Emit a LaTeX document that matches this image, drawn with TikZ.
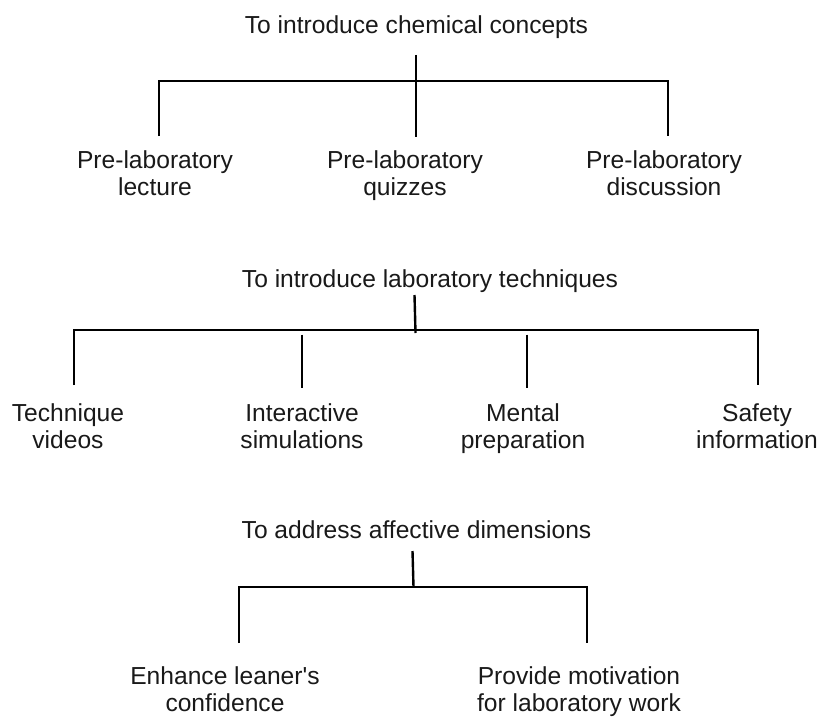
\documentclass[tikz,border=0pt]{standalone}
\usepackage{fontspec}
\setmainfont{Liberation Sans}[Ligatures=TeXOff]
\begin{document}
\begin{tikzpicture}[x=1pt,y=-1pt,
  lbl/.style={font=\fontsize{24.6}{27.5}\selectfont, align=center, anchor=base, inner sep=0pt, text=black!90},
  conn/.style={line width=2.4pt, line cap=butt, line join=miter, draw=black}]
\useasboundingbox (0,0) rectangle (821,717);
% ---------- section 1
\node[lbl] (t1) at (416.5,34) {To introduce chemical concepts};
\node[lbl] (c11) at (155,195.5) {Pre-laboratory\\lecture};
\node[lbl] (c12) at (405,195.5) {Pre-laboratory\\quizzes};
\node[lbl] (c13) at (664,195.5) {Pre-laboratory\\discussion};
\coordinate (s1top) at (416,55);
\coordinate (s1bot) at (416,137);
\coordinate (b1L) at (159,81);
\coordinate (b1R) at (668,81);
\coordinate (d11) at (159,136);
\coordinate (d13) at (668,136);
\draw[conn] (s1top) -- (s1bot);
\draw[conn] (d11) -- (b1L) -- (b1R) -- (d13);
% ---------- section 2
\node[lbl] (t2) at (430,287) {To introduce laboratory techniques};
\node[lbl] (c21) at (68,448.5) {Technique\\videos};
\node[lbl] (c22) at (302,448.5) {Interactive\\simulations};
\node[lbl] (c23) at (523,448.5) {Mental\\preparation};
\node[lbl] (c24) at (757,448.5) {Safety\\information};
\coordinate (s2top) at (414.5,295);
\coordinate (s2bot) at (415.5,333);
\coordinate (b2L) at (74,330);
\coordinate (b2R) at (758,330);
\coordinate (d21) at (74,385);
\coordinate (d24) at (758,385);
\coordinate (d22t) at (302,334.5);
\coordinate (d22b) at (302,388);
\coordinate (d23t) at (527,334.5);
\coordinate (d23b) at (527,388);
\draw[conn] (s2top) -- (s2bot);
\draw[conn] (d21) -- (b2L) -- (b2R) -- (d24);
\draw[conn] (d22t) -- (d22b);
\draw[conn] (d23t) -- (d23b);
% ---------- section 3
\node[lbl] (t3) at (416.5,538) {To address affective dimensions};
\node[lbl] (c31) at (225,711.5) {Enhance leaner's\\confidence};
\node[lbl] (c32) at (579,711.5) {Provide motivation\\for laboratory work};
\coordinate (s3top) at (412.5,551);
\coordinate (s3bot) at (413.5,587);
\coordinate (b3L) at (239,587);
\coordinate (b3R) at (587,587);
\coordinate (d31) at (239,643);
\coordinate (d32) at (587,643);
\draw[conn] (s3top) -- (s3bot);
\draw[conn] (d31) -- (b3L) -- (b3R) -- (d32);
\end{tikzpicture}
\end{document}
